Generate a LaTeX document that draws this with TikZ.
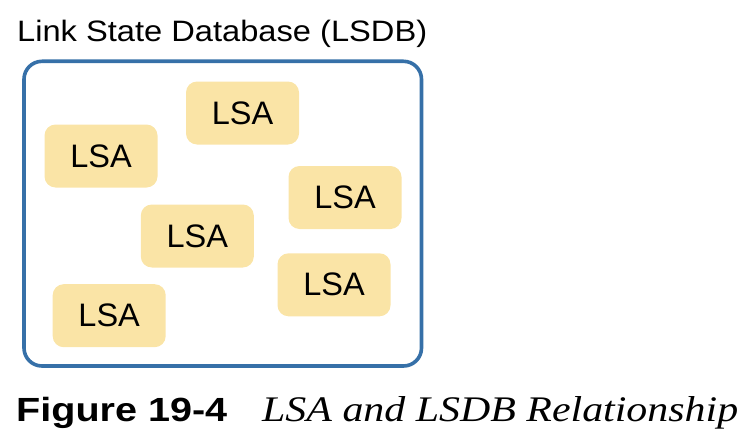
\documentclass[tikz,border=0pt]{standalone}
\usepackage{fontspec}
\setmainfont{Liberation Sans}
\newfontfamily\capserif{Liberation Serif}
\definecolor{dbblue}{RGB}{54,112,168}
\definecolor{lsafill}{RGB}{250,228,166}
\begin{document}
\begin{tikzpicture}[x=1pt,y=-1pt,
  lsabox/.style={rounded corners=11pt, fill=lsafill, minimum width=113pt, minimum height=63pt, inner sep=0pt, font=\fontsize{32.5}{36}\selectfont},
  dbbox/.style={draw=dbblue, line width=3.6pt, rounded corners=18pt, minimum width=397.5pt, minimum height=304.7pt, inner sep=0pt},
  plain/.style={anchor=base west, inner sep=0pt}]
\useasboundingbox (0,0) rectangle (754,444);
\node[dbbox] (lsdb) at (222.75,213.65) {};
\node[plain, font=\fontsize{29.5}{34}\selectfont] (title) at (17,42) {\resizebox{410pt}{\height}{Link State Database (LSDB)}};
\node[lsabox] (lsa1) at (242.5,113) {LSA};
\node[lsabox] (lsa2) at (101,156) {LSA};
\node[lsabox] (lsa3) at (345,197.5) {LSA};
\node[lsabox] (lsa4) at (197.3,236) {LSA};
\node[lsabox] (lsa5) at (334,284.8) {LSA};
\node[lsabox] (lsa6) at (109.2,315.7) {LSA};
\node[plain, font=\fontsize{33.5}{38}\selectfont\bfseries] (fig) at (16,421) {\resizebox{211pt}{\height}{Figure 19-4}};
\node[plain, font=\fontsize{36}{40}\selectfont\capserif\itshape] (figtitle) at (262,421) {\resizebox{476pt}{\height}{LSA and LSDB Relationship}};
\end{tikzpicture}
\end{document}
